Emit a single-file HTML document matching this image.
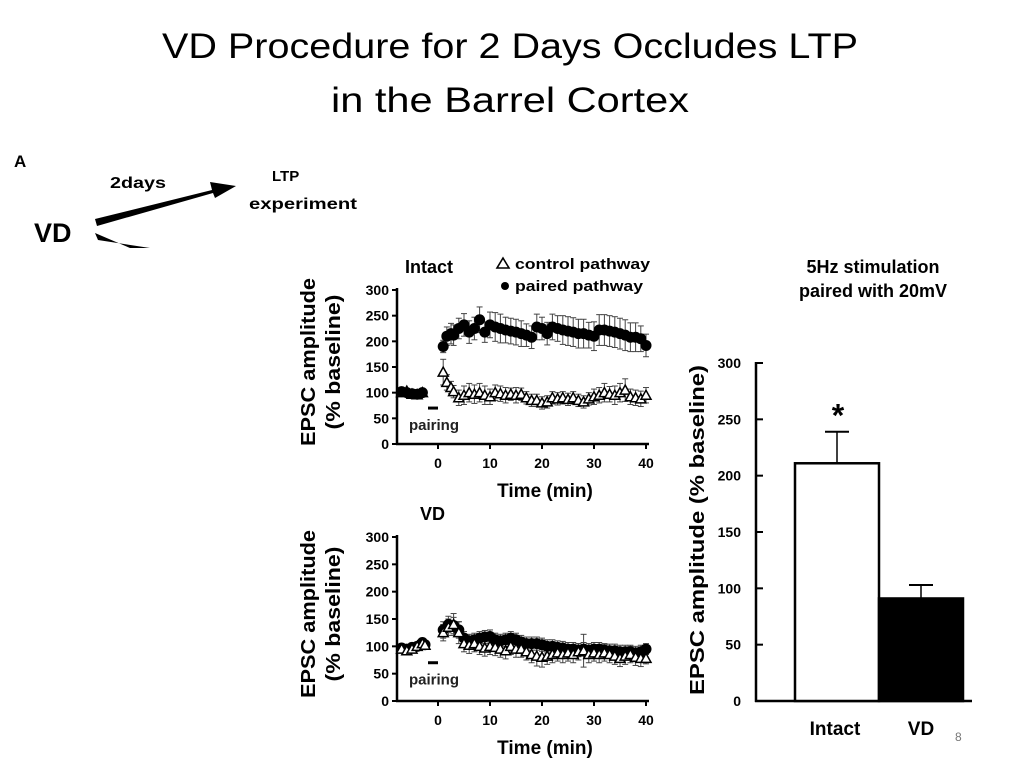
<!DOCTYPE html>
<html><head><meta charset="utf-8"><style>
html,body{margin:0;padding:0;background:#fff;}
svg{display:block;font-family:"Liberation Sans",Arial,sans-serif;}
</style></head><body>
<svg id="s" width="1024" height="768" viewBox="0 0 1024 768">
<g font-size="35" text-anchor="middle" fill="#000">
<text x="510" y="58" textLength="696" lengthAdjust="spacingAndGlyphs">VD Procedure for 2 Days Occludes LTP</text>
<text x="510" y="112" textLength="358" lengthAdjust="spacingAndGlyphs">in the Barrel Cortex</text>
</g>
<g font-weight="bold">
<text x="14" y="167" font-size="17">A</text>
<text x="110" y="188" font-size="16" textLength="56" lengthAdjust="spacingAndGlyphs">2days</text>
<text x="272" y="181" font-size="15">LTP</text>
<text x="249" y="209" font-size="16" textLength="108" lengthAdjust="spacingAndGlyphs">experiment</text>
<text x="34" y="242" font-size="27">VD</text>
<polygon points="95,219 212,190 210,182 236,186 215,198 213,193 97,226" fill="#000"/>
<polygon points="95,233 98,240 150,248 130,248" fill="#000"/>
</g>
<g id="c1"></g>
<g id="c2"></g>
<g id="c3"></g>
<text x="955" y="741" font-size="12" fill="#777">8</text>
</svg>
<script>
const xTicks=[0,10,20,30,40];
const yTicks=[0,50,100,150,200,250,300];
const intactTime=[-7,-6,-5,-4,-3,1,1.7,2.5,3,4,5,6,7,8,9,10,11,12,13,14,15,16,17,18,19,20,21,22,23,24,25,26,27,28,29,30,31,32,33,34,35,36,37,38,39,40];
const intactPaired=[102,100,98,97,100,190,210,215,212,225,232,218,225,242,218,232,228,225,222,220,218,215,212,208,228,225,215,228,225,222,220,218,215,215,212,210,222,222,220,218,215,212,208,208,205,192];
const intactControl=[100,103,97,96,100,140,120,110,102,90,95,100,97,100,95,92,100,98,95,97,95,97,90,85,85,80,82,90,88,90,87,90,85,82,88,92,95,100,97,95,100,105,92,90,88,95];
const intactPairedErr=[5,5,5,5,5,12,18,20,20,20,22,22,22,25,20,25,28,28,25,25,25,25,22,22,25,22,22,25,25,28,28,28,28,28,25,28,30,30,30,30,30,30,28,28,25,22];
const intactControlErr=[5,5,5,5,5,25,15,12,12,15,18,18,18,18,18,15,15,15,15,12,15,12,12,12,12,12,12,12,12,12,12,12,12,12,12,15,15,18,15,18,18,22,15,15,15,15];
const vdTime=[-7,-6,-5,-4,-3,-2.5,1,2,3,4,5,6,7,8,9,10,11,12,13,14,15,16,17,18,19,20,21,22,23,24,25,26,27,28,29,30,31,32,33,34,35,36,37,38,39,40];
const vdPaired=[97,95,98,100,107,103,130,140,138,130,115,110,112,115,117,118,112,110,112,115,112,108,105,105,105,103,100,100,98,97,95,95,93,95,93,95,95,93,92,92,90,90,90,88,90,95];
const vdControl=[95,92,95,100,105,102,125,135,140,125,105,102,105,100,97,100,98,95,92,100,95,95,90,85,82,80,82,85,88,85,88,85,90,92,85,88,85,88,85,82,78,82,85,80,78,78];
const vdPairedErr=[5,5,5,5,5,5,15,15,15,15,12,12,12,12,12,12,12,12,12,12,12,12,12,12,12,12,12,12,12,12,12,12,12,12,12,12,12,12,12,12,12,12,12,12,12,10];
const vdControlErr=[5,5,5,5,5,5,15,15,20,20,15,15,15,15,15,15,15,15,15,15,15,15,15,15,18,18,15,15,15,15,15,15,15,30,15,15,15,15,15,15,15,15,15,15,15,10];
const barCats=['Intact','VD'];
const barValues=[211,91];
const barErr=[28,12];
const NS='http://www.w3.org/2000/svg';
function mk(p,tag,a,txt){const e=document.createElementNS(NS,tag);for(const k in a)e.setAttribute(k,a[k]);if(txt!==undefined)e.textContent=txt;p.appendChild(e);return e;}
function line(p,x1,y1,x2,y2,w){return mk(p,'line',{x1,y1,x2,y2,stroke:'#000','stroke-width':w||1});}

function timeChart(g,y0,y300,title,titleX,time,paired,ctrl,pErr,cErr,legend){
  const X=t=>438+t*5.2, Y=v=>y0-(v/300)*(y0-y300);
  const ax=mk(g,'g',{});
  
  
  line(ax,397,Y(300)-2,397,y0+1,2.5);
  yTicks.forEach(v=>{line(ax,392,Y(v),397,Y(v),2);
    const t=mk(ax,'text',{x:389,y:Y(v)+5,'font-size':14,'font-weight':'bold','text-anchor':'end'},v);
    
    });
  const xa=mk(g,'g',{});
  
  
  line(xa,396,y0,649,y0,2.5);
  xTicks.forEach(v=>{line(xa,X(v),y0,X(v),y0+5,2);
    const t=mk(xa,'text',{x:X(v),y:y0+24,'font-size':14,'font-weight':'bold','text-anchor':'middle'},v);
    
    });
  const xt=mk(g,'text',{x:545,y:y0+53,'font-size':19,'font-weight':'bold','text-anchor':'middle'},'Time (min)');
  
  
  const cy=(y0+Y(300))/2-5;
  const yt=mk(g,'text',{transform:`translate(315,${cy}) rotate(-90)`,'font-size':20,'font-weight':'bold','text-anchor':'middle',textLength:168,lengthAdjust:'spacingAndGlyphs'},'EPSC amplitude');
  
  
  const yt2=mk(g,'text',{transform:`translate(340,${cy}) rotate(-90)`,'font-size':20,'font-weight':'bold','text-anchor':'middle',textLength:135,lengthAdjust:'spacingAndGlyphs'},'(%   baseline)');
  
  
  const tt=mk(g,'text',{x:titleX,y:Y(300)-17,'font-size':18,'font-weight':'bold'},title);
  
  
  line(g,428,Y(70),438,Y(70),3);
  const pr=mk(g,'text',{x:409,y:Y(70)+22,'font-size':15,'font-weight':'bold',fill:'#222'},'pairing');
  
  
  [[ctrl,cErr],[paired,pErr]].forEach(([vals,errs])=>{
    vals.forEach((v,i)=>{const x=X(time[i]),yu=Y(v+errs[i]),yd=Y(v-errs[i]);
      const e=mk(g,'g',{});
      
      
      line(e,x,yd,x,yu,1);line(e,x-3,yu,x+3,yu,1);line(e,x-3,yd,x+3,yd,1);
      e.querySelectorAll('line').forEach(l=>l.setAttribute('stroke','#444'));});
  });
  const drawC=()=>ctrl.forEach((v,i)=>{const x=X(time[i]),y=Y(v);
    const p=mk(g,'polygon',{points:`${x},${y-5} ${x-5},${y+4} ${x+5},${y+4}`,fill:'#fff',stroke:'#000','stroke-width':1.5});
    
    });
  const drawP=()=>paired.forEach((v,i)=>{
    const c=mk(g,'circle',{cx:X(time[i]),cy:Y(v),r:5.5,fill:'#000'});
    
    });
  if(legend){drawC();drawP();}else{drawP();drawC();}
  if(legend){
    const lg=mk(g,'g',{});
    
    
    mk(lg,'polygon',{points:'503,258 497,268 509,268',fill:'#fff',stroke:'#000','stroke-width':1.6});
    mk(lg,'text',{x:515,y:269,'font-size':15,'font-weight':'bold',textLength:135,lengthAdjust:'spacingAndGlyphs'},'control pathway');
    mk(lg,'circle',{cx:505,cy:286,r:4,fill:'#000'});
    mk(lg,'text',{x:515,y:291,'font-size':15,'font-weight':'bold',textLength:128,lengthAdjust:'spacingAndGlyphs'},'paired pathway');
  }
}
timeChart(document.getElementById('c1'),444,290,'Intact',405,intactTime,intactPaired,intactControl,intactPairedErr,intactControlErr,true);
timeChart(document.getElementById('c2'),701,537,'VD',420,vdTime,vdPaired,vdControl,vdPairedErr,vdControlErr,false);

(function(){
  const g=document.getElementById('c3');
  const Y=v=>701-v*(338/300);
  const bx=[795,879], bw=84;
  const t1=mk(g,'text',{x:873,y:273,'font-size':18,'font-weight':'bold','text-anchor':'middle'},'5Hz stimulation');
  
  
  const t2=mk(g,'text',{x:873,y:297,'font-size':18,'font-weight':'bold','text-anchor':'middle'},'paired with 20mV');
  
  
  line(g,756,Y(300)-1,756,702,2.5);
  line(g,755,701,972,701,2.5);
  yTicks.forEach(v=>{line(g,756,Y(v),763,Y(v),2);
    const t=mk(g,'text',{x:741,y:Y(v)+5,'font-size':14,'font-weight':'bold','text-anchor':'end'},v);
    
    });
  const yt=mk(g,'text',{transform:'translate(704,530) rotate(-90)','font-size':20,'font-weight':'bold','text-anchor':'middle',textLength:330,lengthAdjust:'spacingAndGlyphs'},'EPSC amplitude  (%  baseline)');
  
  
  barValues.forEach((v,i)=>{
    const x=bx[i],cx=x+bw/2;
    line(g,cx,Y(v),cx,Y(v+barErr[i]),1.5);line(g,cx-12,Y(v+barErr[i]),cx+12,Y(v+barErr[i]),2);
    const r=mk(g,'rect',{x:x,y:Y(v),width:bw,height:701-Y(v),fill:i?'#000':'#fff',stroke:'#000','stroke-width':2.5});
    
    
    const l=mk(g,'text',{x:i?921:835,y:735,'font-size':19,'font-weight':'bold','text-anchor':'middle'},barCats[i]);
    
    
  });
  const s=mk(g,'text',{x:838,y:Y(barValues[0]+barErr[0])-5,'font-size':32,'font-weight':'bold','text-anchor':'middle'},'*');
  
  
})();
</script>
</body></html>
